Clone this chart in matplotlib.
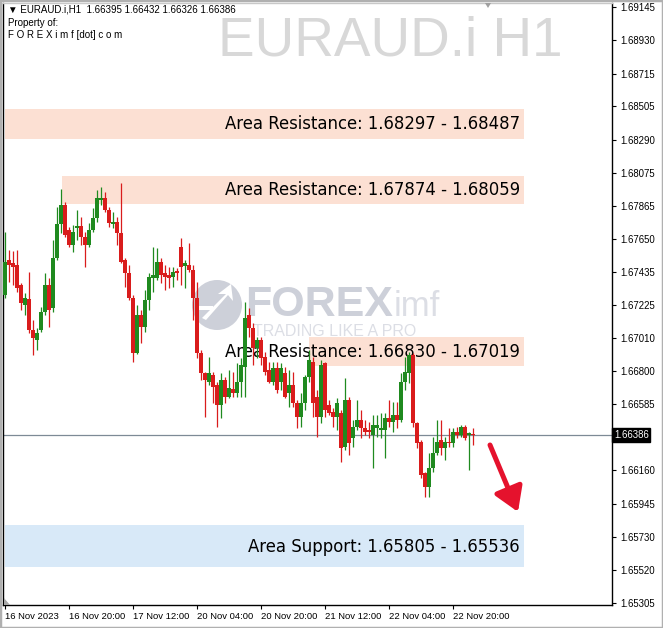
import matplotlib
matplotlib.use('Agg')
import matplotlib.pyplot as plt
import numpy as np
from matplotlib.patches import Rectangle, Circle, Polygon

# ---------------- data (EURAUD.i H1) ----------------
opens = [1.67289, 1.67515, 1.67496, 1.67481, 1.67353, 1.67225, 1.67263, 1.67063, 1.66999, 1.67063,
         1.67178, 1.67353, 1.67206, 1.67528, 1.67747, 1.67869, 1.67707, 1.67611, 1.67720, 1.67733,
         1.67662, 1.67611, 1.67707, 1.67786, 1.67901, 1.67914, 1.67837, 1.67747, 1.67760, 1.67688,
         1.67515, 1.67430, 1.67270, 1.66916, 1.67159, 1.67082, 1.67257, 1.67398, 1.67398, 1.67502,
         1.67430, 1.67417, 1.67404, 1.67443, 1.67598, 1.67475, 1.67481, 1.67449, 1.67270, 1.66916,
         1.66786, 1.66728, 1.66773, 1.66709, 1.66579, 1.66741, 1.66632, 1.66683, 1.66658, 1.66728,
         1.66824, 1.67159, 1.67076, 1.66948, 1.66999, 1.66890, 1.66805, 1.66728, 1.66818, 1.66728,
         1.66786, 1.66658, 1.66709, 1.66594, 1.66502, 1.66594, 1.66760, 1.66856, 1.66632, 1.66502,
         1.66850, 1.66579, 1.66534, 1.66502, 1.66528, 1.66310, 1.66613, 1.66368, 1.66438, 1.66483,
         1.66432, 1.66419, 1.66387, 1.66432, 1.66419, 1.66419, 1.66496, 1.66470, 1.66515, 1.66483,
         1.66728, 1.66786, 1.66903, 1.66464, 1.66342, 1.66142, 1.66052, 1.66174, 1.66270, 1.66355,
         1.66304, 1.66342, 1.66336, 1.66406, 1.66387, 1.66438, 1.66387, 1.66395]
highs = [1.67694, 1.67579, 1.67573, 1.67579, 1.67366, 1.67302, 1.67436, 1.67127, 1.67076, 1.67212,
         1.67430, 1.67398, 1.67643, 1.67856, 1.67971, 1.67888, 1.67726, 1.67741, 1.67837, 1.67792,
         1.67694, 1.67754, 1.67850, 1.67965, 1.67984, 1.67952, 1.67856, 1.67824, 1.67792, 1.68010,
         1.67528, 1.67481, 1.67289, 1.67225, 1.67193, 1.67321, 1.67430, 1.67598, 1.67592, 1.67528,
         1.67481, 1.67468, 1.67468, 1.67462, 1.67656, 1.67515, 1.67624, 1.67481, 1.67372, 1.66935,
         1.66792, 1.66890, 1.66792, 1.66728, 1.66786, 1.66760, 1.66805, 1.66792, 1.66850, 1.66882,
         1.67244, 1.67206, 1.67108, 1.67018, 1.67018, 1.66922, 1.66856, 1.66856, 1.66856, 1.66850,
         1.66824, 1.66805, 1.66792, 1.66613, 1.66658, 1.66773, 1.66935, 1.66890, 1.66677, 1.66869,
         1.66856, 1.66613, 1.66560, 1.66626, 1.66547, 1.66754, 1.66632, 1.66483, 1.66613, 1.66547,
         1.66483, 1.66470, 1.66515, 1.66515, 1.66528, 1.66528, 1.66613, 1.66600, 1.66600, 1.66786,
         1.66890, 1.66922, 1.66916, 1.66470, 1.66355, 1.66148, 1.66270, 1.66374, 1.66483, 1.66483,
         1.66374, 1.66432, 1.66432, 1.66438, 1.66451, 1.66451, 1.66406, 1.66432]
lows = [1.67270, 1.67372, 1.67353, 1.67308, 1.67193, 1.67159, 1.67044, 1.66903, 1.66935, 1.67050,
        1.67159, 1.67082, 1.67178, 1.67515, 1.67688, 1.67662, 1.67598, 1.67566, 1.67643, 1.67611,
        1.67468, 1.67598, 1.67694, 1.67760, 1.67869, 1.67824, 1.67726, 1.67720, 1.67611, 1.67496,
        1.67340, 1.67257, 1.66856, 1.66909, 1.66980, 1.67050, 1.67193, 1.67308, 1.67385, 1.67366,
        1.67321, 1.67334, 1.67340, 1.67385, 1.67353, 1.67334, 1.67436, 1.67127, 1.66882, 1.66741,
        1.66502, 1.66709, 1.66594, 1.66438, 1.66496, 1.66594, 1.66626, 1.66632, 1.66632, 1.66632,
        1.66632, 1.67018, 1.66837, 1.66882, 1.66837, 1.66773, 1.66722, 1.66709, 1.66658, 1.66677,
        1.66626, 1.66566, 1.66566, 1.66432, 1.66438, 1.66547, 1.66728, 1.66502, 1.66374, 1.66464,
        1.66502, 1.66515, 1.66438, 1.66419, 1.66212, 1.66291, 1.66257, 1.66310, 1.66419, 1.66368,
        1.66387, 1.66368, 1.66174, 1.66374, 1.66368, 1.66238, 1.66438, 1.66406, 1.66432, 1.66470,
        1.66677, 1.66722, 1.66438, 1.66304, 1.66110, 1.65988, 1.65988, 1.66148, 1.66257, 1.66257,
        1.66225, 1.66310, 1.66310, 1.66368, 1.66374, 1.66355, 1.66161, 1.66326]
closes = [1.67502, 1.67481, 1.67468, 1.67334, 1.67238, 1.67270, 1.67063, 1.67012, 1.67044, 1.67178,
          1.67353, 1.67193, 1.67528, 1.67747, 1.67869, 1.67675, 1.67611, 1.67694, 1.67733, 1.67662,
          1.67611, 1.67707, 1.67786, 1.67914, 1.67914, 1.67837, 1.67754, 1.67760, 1.67688, 1.67502,
          1.67430, 1.67270, 1.66916, 1.67159, 1.67082, 1.67257, 1.67404, 1.67417, 1.67502, 1.67417,
          1.67404, 1.67398, 1.67436, 1.67430, 1.67468, 1.67496, 1.67449, 1.67270, 1.66916, 1.66786,
          1.66741, 1.66786, 1.66696, 1.66579, 1.66741, 1.66632, 1.66690, 1.66658, 1.66728, 1.66837,
          1.67140, 1.67076, 1.66948, 1.66999, 1.66882, 1.66792, 1.66728, 1.66818, 1.66677, 1.66818,
          1.66632, 1.66709, 1.66594, 1.66502, 1.66594, 1.66760, 1.66869, 1.66594, 1.66502, 1.66837,
          1.66547, 1.66528, 1.66502, 1.66594, 1.66304, 1.66613, 1.66336, 1.66438, 1.66483, 1.66432,
          1.66406, 1.66406, 1.66451, 1.66451, 1.66432, 1.66496, 1.66470, 1.66515, 1.66483, 1.66728,
          1.66792, 1.66903, 1.66464, 1.66336, 1.66129, 1.66052, 1.66174, 1.66270, 1.66342, 1.66304,
          1.66342, 1.66336, 1.66406, 1.66387, 1.66438, 1.66368, 1.66400, 1.66386]

header = "\u25BC EURAUD.i,H1  1.66395 1.66432 1.66326 1.66386"
price_ticks = [1.69145, 1.68930, 1.68715, 1.68505, 1.68290, 1.68075, 1.67865, 1.67650, 1.67435,
               1.67225, 1.67010, 1.66800, 1.66585, 1.66160, 1.65945, 1.65730, 1.65520, 1.65305]
date_tick_bars = [0, 16, 32, 48, 64, 80, 96, 112]
date_labels = ["16 Nov 2023", "16 Nov 20:00", "17 Nov 12:00", "20 Nov 04:00",
               "20 Nov 20:00", "21 Nov 12:00", "22 Nov 04:00", "22 Nov 20:00"]
current_price = 1.66386

zone_names = ["Area Resistance", "Area Resistance", "Area Resistance", "Area Support"]
zone_low = [1.68297, 1.67874, 1.66830, 1.65536]
zone_high = [1.68487, 1.68059, 1.67019, 1.65805]
zone_text = ["1.68297 - 1.68487", "1.67874 - 1.68059", "1.66830 - 1.67019", "1.65805 - 1.65536"]
zone_start_bar = [0.0, 14.25, 76.0, 0.0]
zone_end_bar = 129.75
zone_is_support = [False, False, False, True]

arrow_from = (121.25, 1.66323)
arrow_to = (128.25, 1.65892)

# ---------------- figure ----------------
W, H = 663, 628
fig = plt.figure(figsize=(W / 100, H / 100), dpi=100)
fig.patch.set_facecolor('white')
ax = fig.add_axes([3 / W, 23 / H, 609 / W, 602 / H])
ax.set_xlim(-0.5, 151.75)
ax.set_ylim(1.65292, 1.69171)

for sp in ax.spines.values():
    sp.set_color('black')
    sp.set_linewidth(1.0)
ax.spines['top'].set_color('#c8c8c8')

GREEN = '#1f8a1f'
RED = '#d91c1c'

# zones
for nm, lo, hi, txt, st, sup in zip(zone_names, zone_low, zone_high, zone_text,
                                    zone_start_bar, zone_is_support):
    ax.add_patch(Rectangle((st, lo), zone_end_bar - st, hi - lo,
                           facecolor='#d8e9f8' if sup else '#fce0d3',
                           edgecolor='none', zorder=1))
    ax.text(128.75, (lo + hi) / 2 - 0.00002, f"{nm}: {txt}", ha='right', va='center',
            fontsize=11.9, family='DejaVu Sans', color='black', zorder=2)

# logo watermark (FOREXimf)
logo_col = '#cdd0d9'
ax.add_patch(Circle((2.17, 3.23), 0.25, transform=fig.dpi_scale_trans,
                    facecolor=logo_col, edgecolor='none', zorder=0.8))
ax.add_patch(Polygon([(2.02, 3.10), (2.26, 3.34), (2.18, 3.34), (2.31, 3.44),
                      (2.33, 3.27), (2.28, 3.33), (2.06, 3.08)],
                     closed=True, transform=fig.dpi_scale_trans,
                     facecolor='white', edgecolor='none', zorder=0.85))
ax.add_patch(Rectangle((1.95, 3.18), 0.18, 0.04, transform=fig.dpi_scale_trans,
                       facecolor='white', edgecolor='none', zorder=0.85))
ax.text(2.45, 3.23, "FOREX", transform=fig.dpi_scale_trans, fontsize=31,
        fontweight='bold', family='Liberation Sans', color=logo_col,
        ha='left', va='center', zorder=0.8)
ax.text(3.94, 3.21, "imf", transform=fig.dpi_scale_trans, fontsize=25,
        family='Liberation Sans', color='#dcdee5', ha='left', va='center', zorder=0.8)
ax.text(2.53, 2.97, "TRADING LIKE A PRO", transform=fig.dpi_scale_trans, fontsize=11.5,
        family='Liberation Sans', color='#dcdee5', ha='left', va='center', zorder=0.8)

# current price line
ax.axhline(current_price, color='#7d8a96', lw=0.9, zorder=2.5)

# candles
x = np.arange(len(opens))
o = np.array(opens); h = np.array(highs); l = np.array(lows); c = np.array(closes)
cols = np.where(c >= o, GREEN, RED)
ax.vlines(x, l, h, colors=cols, linewidth=0.9, zorder=3)
body_lo = np.minimum(o, c)
body_h = np.maximum(np.abs(c - o), 0.00007)
ax.bar(x, body_h, bottom=body_lo, width=0.78, color=cols, edgecolor='none', zorder=4)

# arrow
ax.annotate('', xy=arrow_to, xytext=arrow_from,
            arrowprops=dict(arrowstyle='-|>,head_length=0.8,head_width=0.5',
                            lw=3.6, color='#e5122d', mutation_scale=18,
                            shrinkA=0, shrinkB=0), zorder=6)

# axes ticks
ax.yaxis.tick_right()
ax.set_yticks(price_ticks)
ax.set_yticklabels([f"{v:.5f}" for v in price_ticks])
ax.tick_params(axis='y', length=3, width=0.8, pad=3, labelsize=6.9, colors='black')
for t in ax.get_yticklabels():
    t.set_family('Liberation Sans')

ax.set_xticks(date_tick_bars)
ax.set_xticklabels(date_labels)
ax.tick_params(axis='x', length=3, width=0.8, pad=2, labelsize=6.8, colors='black')
for t in ax.get_xticklabels():
    t.set_horizontalalignment('left')
    t.set_family('Liberation Sans')

ax.text(1.003, current_price, f"{current_price:.5f}", transform=ax.get_yaxis_transform(),
        ha='left', va='center', fontsize=6.9, family='Liberation Sans', color='white',
        bbox=dict(boxstyle='square,pad=0.18', facecolor='black', edgecolor='black'),
        zorder=10, clip_on=False)

# header texts
fig.text(8 / W, 1 - 9.5 / H, header, fontsize=7, family=['Liberation Sans', 'DejaVu Sans'],
         ha='left', va='center', color='black')
fig.text(8 / W, 1 - 22.5 / H, "Property of:", fontsize=7, family='Liberation Sans',
         ha='left', va='center', color='black')
fig.text(8 / W, 1 - 35.5 / H, "F O R E X i m f [dot] c o m", fontsize=7,
         family='Liberation Sans', ha='left', va='center', color='black')

# symbol watermark
fig.text(218 / W, 1 - 42 / H, "EURAUD.i H1", fontsize=39.5, family='Liberation Sans',
         color='#d8d8d8', ha='left', va='center', zorder=0)

# small chart markers
fig.add_artist(Polygon([(485 / W, 1 - 3 / H), (491 / W, 1 - 3 / H), (488 / W, 1 - 8 / H)],
                       closed=True, transform=fig.transFigure, facecolor='#a0a0a0',
                       edgecolor='none'))
fig.add_artist(Polygon([(4 / W, 23 / H), (4 / W, 30 / H), (10 / W, 23 / H)],
                       closed=True, transform=fig.transFigure, facecolor='#a8a8a8',
                       edgecolor='none'))

# outer frame
fig.add_artist(Rectangle((0, 0), 1, 1, transform=fig.transFigure, fill=False,
                         edgecolor='#b0b0b0', lw=2.5))

fig.savefig('out.png', dpi=100, facecolor='white')
